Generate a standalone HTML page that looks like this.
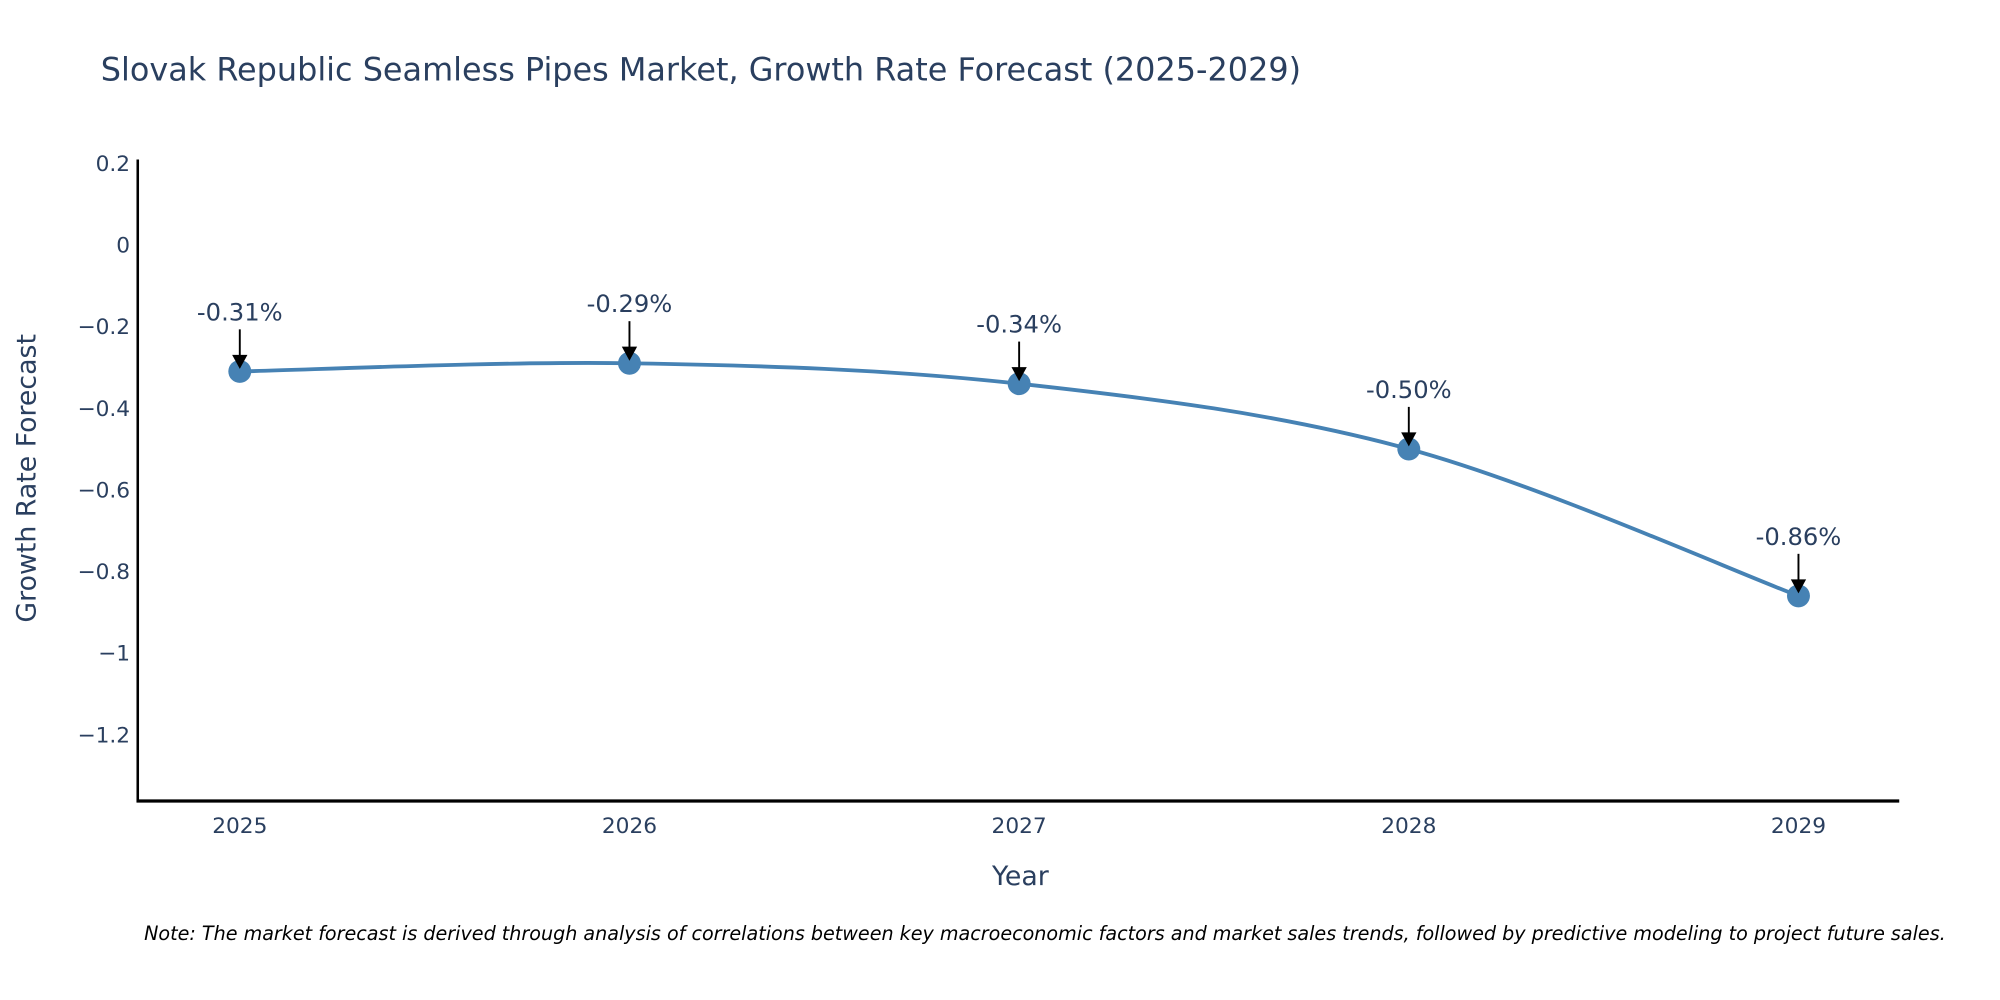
<!DOCTYPE html>
<html><head><meta charset="utf-8"><style>
html,body{margin:0;padding:0;background:#fff;}
svg{display:block;font-family:"DejaVu Sans","Liberation Sans",sans-serif;}
</style></head><body>
<svg id="chart" width="2000" height="1000" viewBox="0 0 1568 784" xmlns="http://www.w3.org/2000/svg">
<text x="79" y="63" font-size="25" fill="#2a3f5f">Slovak Republic Seamless Pipes Market, Growth Rate Forecast (2025-2029)</text>
<g id="yticks"></g>
<g id="xticks"></g>
<line x1="108" y1="125" x2="108" y2="629" stroke="#000" stroke-width="2"/>
<line x1="107" y1="628" x2="1489" y2="628" stroke="#000" stroke-width="2.5"/>
<text transform="translate(28,375) rotate(-90)" text-anchor="middle" font-size="21" fill="#2a3f5f">Growth Rate Forecast</text>
<text x="800" y="694" text-anchor="middle" font-size="21" fill="#2a3f5f">Year</text>
<g id="series"></g>
<g id="annots"></g>
<text x="113" y="737" font-size="15" font-style="italic" fill="#000">Note: The market forecast is derived through analysis of correlations between key macroeconomic factors and market sales trends, followed by predictive modeling to project future sales.</text>
</svg>
<script>
const years = ["2025","2026","2027","2028","2029"];
const values = [-0.31,-0.29,-0.34,-0.50,-0.86];
const labels = ["-0.31%","-0.29%","-0.34%","-0.50%","-0.86%"];
const yTickVals = [0.2,0,-0.2,-0.4,-0.6,-0.8,-1,-1.2];
const yTickLabels = ["0.2","0","\u22120.2","\u22120.4","\u22120.6","\u22120.8","\u22121","\u22121.2"];

const NS="http://www.w3.org/2000/svg";
function X(i){return 188+i*305.5;}
function Y(v){return 192-v*320;}
function mk(tag,attrs,parent){const e=document.createElementNS(NS,tag);for(const k in attrs)e.setAttribute(k,attrs[k]);parent.appendChild(e);return e;}

const yt=document.getElementById('yticks');
yTickVals.forEach((v,i)=>{const t=mk('text',{x:102,y:Y(v)+6,'text-anchor':'end','font-size':17,fill:'#2a3f5f'},yt);


t.textContent=yTickLabels[i];});
const xt=document.getElementById('xticks');
years.forEach((y,i)=>{const t=mk('text',{x:X(i),y:653,'text-anchor':'middle','font-size':17,fill:'#2a3f5f'},xt);


t.textContent=y;});

const pts=values.map((v,i)=>[X(i),Y(v)]);
let d=`M${pts[0][0]},${pts[0][1]}`;
for(let i=0;i<pts.length-1;i++){
 const p0=pts[Math.max(0,i-1)],p1=pts[i],p2=pts[i+1],p3=pts[Math.min(pts.length-1,i+2)];
 const s=6;
 const c1=[p1[0]+(p2[0]-p0[0])/s,p1[1]+(p2[1]-p0[1])/s];
 const c2=[p2[0]-(p3[0]-p1[0])/s,p2[1]-(p3[1]-p1[1])/s];
 d+=` C${c1[0]},${c1[1]} ${c2[0]},${c2[1]} ${p2[0]},${p2[1]}`;
}
const sg=document.getElementById('series');
const ln=mk('path',{d:d,fill:'none',stroke:'#4682b4','stroke-width':3},sg);


pts.forEach(p=>{const c=mk('circle',{cx:p[0],cy:p[1],r:9,fill:'#4682b4'},sg);

});

const an=document.getElementById('annots');
pts.forEach((p,i)=>{
 const l=mk('line',{x1:p[0],y1:p[1]-33,x2:p[0],y2:p[1]-12,stroke:'#000','stroke-width':1.5},an);
 
 
 const h=mk('polygon',{points:`${p[0]-6},${p[1]-13} ${p[0]+6},${p[1]-13} ${p[0]},${p[1]-2}`,fill:'#000'},an);
 
 
 const t=mk('text',{x:p[0],y:p[1]-40,'text-anchor':'middle','font-size':19,fill:'#2a3f5f'},an);
 
 
 t.textContent=labels[i];
});
</script>
</body></html>
